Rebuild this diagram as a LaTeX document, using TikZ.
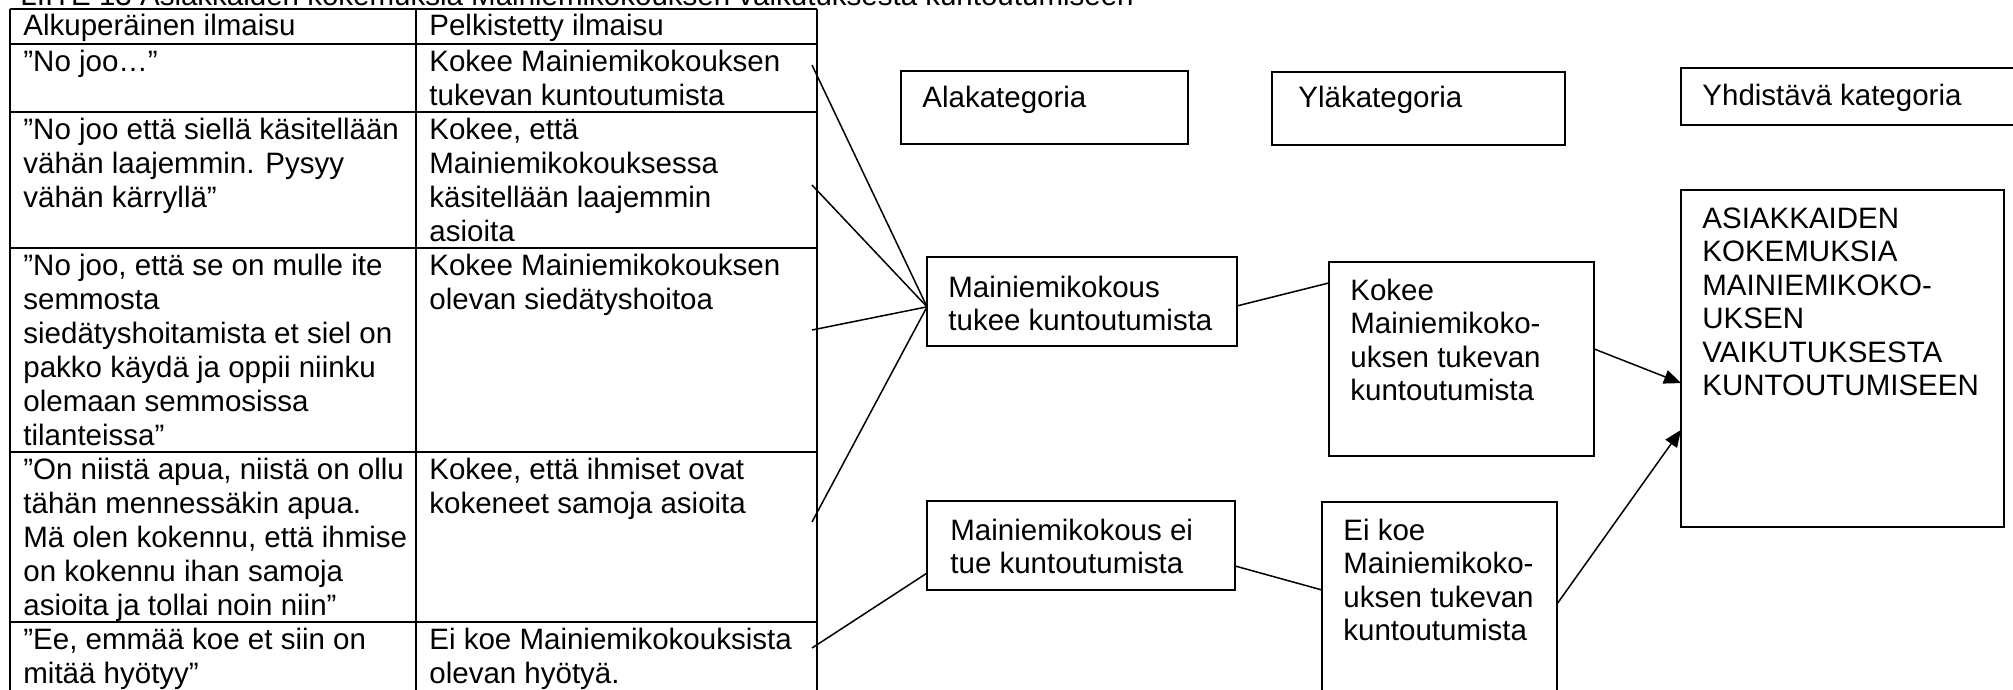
\documentclass[tikz,border=0pt]{standalone}
\usepackage{fontspec}
\setmainfont{Liberation Sans}
\usetikzlibrary{arrows.meta,calc}

% Canvas: one unit = one pixel of a 2013 x 690 sheet, y grows downwards
\newcommand{\tabfont}{\fontsize{14.75pt}{17pt}\selectfont}
\newcommand{\boxfont}{\fontsize{14.75pt}{16.7pt}\selectfont}
\newcommand{\fst}{\rule{0pt}{14pt}}

\tikzset{
  tablerule/.style={line width=1.1pt},
  celltext/.style={anchor=north west, inner sep=0pt, align=left, font=\tabfont},
  boxtext/.style={anchor=north west, inner sep=0pt, align=left, font=\boxfont},
  catbox/.style={draw, line width=0.85pt, rectangle, anchor=north west,
                 inner sep=0pt, outer sep=0pt},
  link/.style={line width=0.75pt},
  arrowlink/.style={line width=0.75pt, -{Triangle[length=8.5pt,width=7pt]}},
}

\begin{document}
\begin{tikzpicture}[x=0.5pt, y=-0.5pt]
\fill[white] (0,0) rectangle (2013,690);
\useasboundingbox (0,0) rectangle (2013,690);

% caption above the table (cut by the sheet edge)
\node[anchor=base west, inner sep=0pt, font=\tabfont] (caption) at (20,6)
  {LIITE 13 Asiakkaiden kokemuksia Mainiemikokouksen vaikutuksesta kuntoutumiseen};

% ---------- table ----------
\draw[tablerule] (10,9) -- (10,700);
\draw[tablerule] (416,9) -- (416,700);
\draw[tablerule] (817,9) -- (817,700);
\foreach \yy in {9,44,112,248,452,622}
  \draw[tablerule] (10,\yy) -- (817,\yy);

\node[celltext] (h1) at (23,7)  {\fst Alkuperäinen ilmaisu};
\node[celltext] (h2) at (429,7) {\fst Pelkistetty ilmaisu};

\node[celltext] (a1) at (23,43)  {\fst ”No joo…”};
\node[celltext] (b1) at (429,43) {\fst Kokee Mainiemikokouksen\\tukevan kuntoutumista};

\node[celltext] (a2) at (23,111)  {\fst ”No joo että siellä käsitellään\\vähän laajemmin. Pysyy\\vähän kärryllä”};
\node[celltext] (b2) at (429,111) {\fst Kokee, että\\Mainiemikokouksessa\\käsitellään laajemmin\\asioita};

\node[celltext] (a3) at (23,247)  {\fst ”No joo, että se on mulle ite\\semmosta\\siedätyshoitamista et siel on\\pakko käydä ja oppii niinku\\olemaan semmosissa\\tilanteissa”};
\node[celltext] (b3) at (429,247) {\fst Kokee Mainiemikokouksen\\olevan siedätyshoitoa};

\node[celltext] (a4) at (23,451)  {\fst ”On niistä apua, niistä on ollu\\tähän mennessäkin apua.\\Mä olen kokennu, että ihmise\\on kokennu ihan samoja\\asioita ja tollai noin niin”};
\node[celltext] (b4) at (429,451) {\fst Kokee, että ihmiset ovat\\kokeneet samoja asioita};

\node[celltext] (a5) at (23,621)  {\fst ”Ee, emmää koe et siin on\\mitää hyötyy”};
\node[celltext] (b5) at (429,621) {\fst Ei koe Mainiemikokouksista\\olevan hyötyä.};

% ---------- category boxes ----------
\node[catbox, minimum width=143.5pt, minimum height=36.5pt] (ala) at (901,71) {};
\node[catbox, minimum width=146.5pt, minimum height=36.5pt] (yla) at (1272,72) {};
\node[catbox, minimum width=200pt,   minimum height=28.5pt] (yhd) at (1681,68) {};
\node[catbox, minimum width=155pt,   minimum height=44.5pt] (tukee) at (927,257) {};
\node[catbox, minimum width=154pt,   minimum height=44.5pt] (eitue) at (927,501) {};
\node[catbox, minimum width=132.5pt, minimum height=97pt]   (kokee) at (1329,262) {};
\node[catbox, minimum width=117.5pt, minimum height=125pt]  (eikoe) at (1322,502) {};
\node[catbox, minimum width=161.5pt, minimum height=168.5pt] (yhteinen) at (1681,190) {};

\node[boxtext] (alaT)   at (922,79)   {\fst Alakategoria};
\node[boxtext] (ylaT)   at (1298,79)  {\fst Yläkategoria};
\node[boxtext] (yhdT)   at (1702,77)  {\fst Yhdistävä kategoria};
\node[boxtext] (tukeeT) at (948,269)  {\fst Mainiemikokous\\tukee kuntoutumista};
\node[boxtext] (eitueT) at (950,512)  {\fst Mainiemikokous ei\\tue kuntoutumista};
\node[boxtext] (kokeeT) at (1350,272) {\fst Kokee\\Mainiemikoko-\\uksen tukevan\\kuntoutumista};
\node[boxtext] (eikoeT) at (1343,512) {\fst Ei koe\\Mainiemikoko-\\uksen tukevan\\kuntoutumista};
\node[boxtext] (yhteinenT) at (1702,200) {\fst ASIAKKAIDEN\\KOKEMUKSIA\\MAINIEMIKOKO-\\UKSEN\\VAIKUTUKSESTA\\KUNTOUTUMISEEN};

% ---------- connectors ----------
\coordinate (s1) at (812,65);
\coordinate (s2) at (812,185);
\coordinate (s3) at (812,330);
\coordinate (s4) at (812,522);
\coordinate (s5) at (812,648);

\coordinate (hub)      at ($(tukee.north west)!0.56!(tukee.south west)$);
\coordinate (eiin)     at ($(eitue.north west)!0.81!(eitue.south west)$);
\coordinate (tukeeout) at ($(tukee.north east)!0.55!(tukee.south east)$);
\coordinate (kokeein)  at ($(kokee.north west)!0.108!(kokee.south west)$);
\coordinate (eiout)    at ($(eitue.north east)!0.73!(eitue.south east)$);
\coordinate (eikoein)  at ($(eikoe.north west)!0.352!(eikoe.south west)$);
\coordinate (kokeeout) at ($(kokee.north east)!0.448!(kokee.south east)$);
\coordinate (eikoeout) at ($(eikoe.north east)!0.408!(eikoe.south east)$);
\coordinate (bigin1)   at ($(yhteinen.north west)!0.573!(yhteinen.south west)$);
\coordinate (bigin2)   at ($(yhteinen.north west)!0.712!(yhteinen.south west)$);

\foreach \s in {s1,s2,s3,s4}
  \draw[link] (\s) -- (hub);
\draw[link] (s5) -- (eiin);
\draw[link] (tukeeout) -- (kokeein);
\draw[link] (eiout) -- (eikoein);
\draw[arrowlink] (kokeeout) -- (bigin1);
\draw[arrowlink] (eikoeout) -- (bigin2);
\end{tikzpicture}
\end{document}
